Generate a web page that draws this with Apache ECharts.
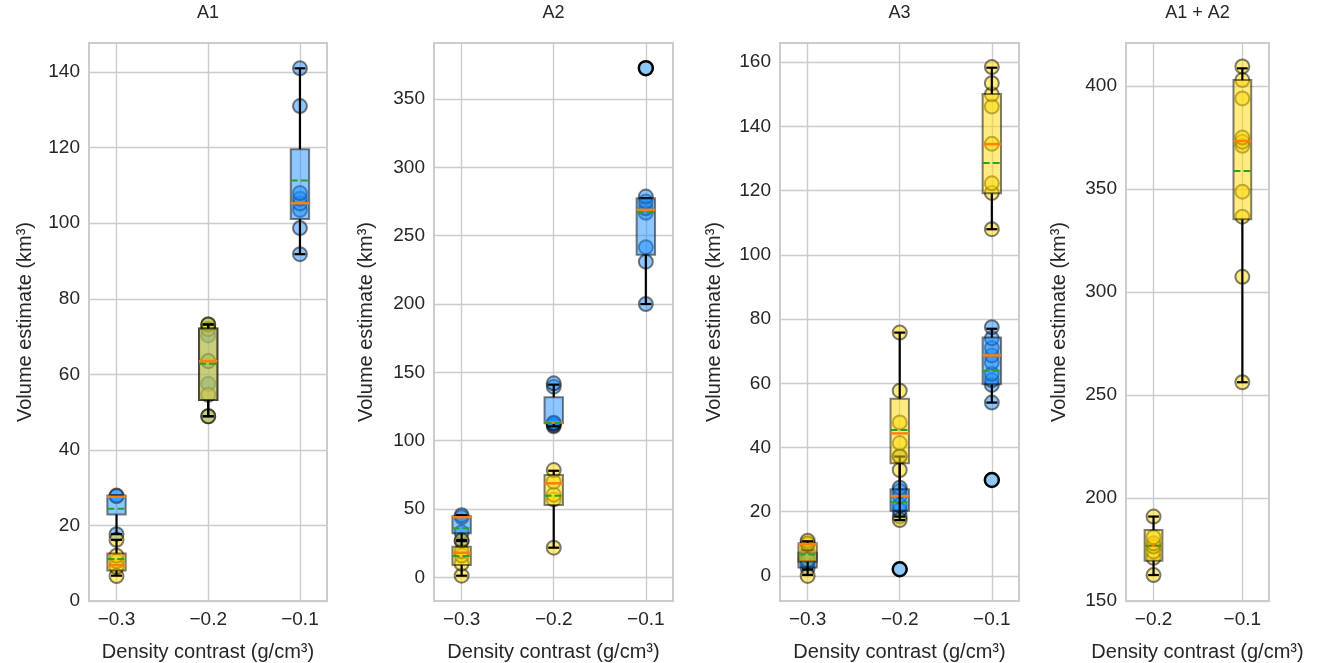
<!DOCTYPE html>
<html><head><meta charset="utf-8">
<script src="https://cdn.jsdelivr.net/npm/echarts@6/dist/echarts.min.js"></script>
<style>html,body{margin:0;padding:0;background:#fff}#c{width:1318px;height:663px}</style>
</head><body><div id="c"></div>
<script>
// ---------------- data ----------------
const panelTitles = ['A1', 'A2', 'A3', 'A1 + A2'];
const xTickValues = [[-0.3, -0.2, -0.1], [-0.3, -0.2, -0.1], [-0.3, -0.2, -0.1], [-0.2, -0.1]];
const yTickValues = [
  [0, 20, 40, 60, 80, 100, 120, 140],
  [0, 50, 100, 150, 200, 250, 300, 350],
  [0, 20, 40, 60, 80, 100, 120, 140, 160],
  [150, 200, 250, 300, 350, 400]
];
const xAxisTitle = 'Density contrast (g/cm³)';
const yAxisTitle = 'Volume estimate (km³)';

// box stats: [low whisker, q1, median, q3, high whisker, mean]
// A1
const a1BluePos = [-0.3, -0.2, -0.1];
const a1BluePts = [[17.7, 27.7, 27.9], [48.9, 57.5, 63.5, 70.3, 73.2], [91.8, 98.7, 103.5, 105.2, 106.5, 108.0, 131.0, 141.0]];
const a1BlueBox = [[17.7, 22.9, 27.6, 27.9, 27.9, 24.4], [48.9, 53.2, 63.5, 72.1, 73.2, 62.8], [91.8, 101.1, 105.3, 119.6, 141.0, 111.3]];
const a1BlueFliers = [];
const a1YellowPos = [-0.3, -0.2];
const a1YellowPts = [[6.6, 9.0, 10.5, 12.0, 16.2], [48.9, 54.6, 63.5, 72.0, 73.2]];
const a1YellowBox = [[6.7, 8.1, 9.5, 12.6, 16.2, 11.1], [48.9, 53.2, 63.5, 72.1, 73.2, 62.8]];
// A2
const a2BluePos = [-0.3, -0.2, -0.1];
const a2BluePts = [[26.5, 33.0, 44.0, 45.5], [110.5, 111.5, 112.5, 113.2, 139.5, 142.0], [200.0, 231.0, 241.6, 266.8, 270.0, 275.0, 278.6]];
const a2BlueBox = [[26.5, 32.2, 44.0, 44.8, 45.5, 36.0], [110.5, 112.7, 113.2, 131.8, 141.0, 112.9], [200.0, 236.0, 268.9, 277.4, 277.4, 267.2]];
const a2BlueFliers = [[-0.1, 372.6]];
const a2YellowPos = [-0.3, -0.2];
const a2YellowPts = [[1.2, 10.0, 16.0, 19.0, 27.3], [21.7, 57.0, 60.5, 70.0, 78.5]];
const a2YellowBox = [[1.2, 9.0, 18.0, 22.4, 27.3, 15.6], [21.7, 53.0, 68.8, 74.9, 78.0, 59.7]];
// A3
const a3BluePos = [-0.3, -0.2, -0.1];
const a3BluePts = [[2.4, 4.0, 5.0, 7.5], [18.5, 20.5, 22.0, 24.9, 26.5, 27.5, 37.2], [54.0, 59.5, 61.0, 63.0, 66.5, 68.7, 71.0, 74.0, 77.5]];
const a3BlueBox = [[2.0, 2.6, 5.0, 7.2, 8.0, 5.2], [18.5, 20.3, 24.9, 27.0, 37.2, 23.0], [54.0, 59.7, 68.7, 74.3, 77.0, 63.9]];
const a3BlueFliers = [[-0.2, 2.1], [-0.1, 29.9]];
const a3YellowPos = [-0.3, -0.2, -0.1];
const a3YellowPts = [[0.0, 5.0, 9.9, 10.2, 11.0], [17.4, 33.0, 37.3, 41.4, 47.8, 57.7, 75.8], [108.0, 119.3, 122.3, 134.6, 146.2, 150.0, 153.5, 158.5]];
const a3YellowBox = [[0.3, 4.5, 9.9, 10.2, 10.8, 6.7], [17.4, 35.1, 44.4, 55.2, 75.8, 45.5], [108.0, 119.2, 134.5, 150.1, 158.3, 128.6]];
// A1 + A2
const a4YellowPos = [-0.2, -0.1];
const a4YellowPts = [[162.6, 171.0, 174.0, 176.5, 178.0, 181.0, 191.0], [256.2, 307.4, 336.6, 348.7, 371.0, 373.0, 375.0, 394.0, 402.9, 409.5]];
const a4YellowBox = [[162.6, 169.6, 176.8, 184.5, 191.0, 176.8], [256.2, 335.3, 373.3, 402.9, 408.6, 358.7]];

// ---------------- layout / style ----------------
const grids = [
  {left: 89, top: 43, width: 238, height: 558},
  {left: 434, top: 43, width: 239, height: 558},
  {left: 780, top: 43, width: 239, height: 558},
  {left: 1126, top: 43, width: 143, height: 558}
];
const xLimits = [[-0.33, -0.0705], [-0.33, -0.0705], [-0.33, -0.0705], [-0.231, -0.070]];
const yLimits = [[0, 147.7], [-17.3, 391], [-7.8, 166], [150, 420.9]];
const yNameGaps = [54, 58, 56, 57];
const FONT = 'Liberation Sans, Arial, Helvetica, sans-serif';
const TXT = '#262626';
const BLUE = 'rgba(30,144,255,0.5)';
const YELLOW = 'rgba(255,215,0,0.5)';
const BOX_W = 0.02, CAP_W = 0.012;

function boxRender(fill) {
  return function (params, api) {
    const x = api.value(0);
    const lo = api.value(1), q1 = api.value(2), md = api.value(3), q3 = api.value(4), hi = api.value(5), mn = api.value(6);
    const tl = api.coord([x - BOX_W / 2, q3]);
    const br = api.coord([x + BOX_W / 2, q1]);
    const pLo = api.coord([x, lo]), pHi = api.coord([x, hi]);
    const cl = api.coord([x - CAP_W / 2, lo])[0], cr = api.coord([x + CAP_W / 2, lo])[0];
    const yMd = api.coord([x, md])[1], yMn = api.coord([x, mn])[1];
    const blk = {stroke: '#000', lineWidth: 2.2};
    return {type: 'group', children: [
      {type: 'line', shape: {x1: pLo[0], y1: br[1], x2: pLo[0], y2: pLo[1]}, style: blk},
      {type: 'line', shape: {x1: pHi[0], y1: tl[1], x2: pHi[0], y2: pHi[1]}, style: blk},
      {type: 'line', shape: {x1: cl, y1: pLo[1], x2: cr, y2: pLo[1]}, style: blk},
      {type: 'line', shape: {x1: cl, y1: pHi[1], x2: cr, y2: pHi[1]}, style: blk},
      {type: 'rect', shape: {x: tl[0], y: tl[1], width: br[0] - tl[0], height: br[1] - tl[1]},
        style: {fill: fill, stroke: 'rgba(0,0,0,0.5)', lineWidth: 2}},
      {type: 'line', shape: {x1: tl[0], y1: yMd, x2: br[0], y2: yMd}, style: {stroke: '#ff7f0e', lineWidth: 2.5}},
      {type: 'line', shape: {x1: tl[0], y1: yMn, x2: br[0], y2: yMn}, style: {stroke: '#2ca02c', lineWidth: 2, lineDash: [7, 3]}}
    ]};
  };
}

function ptsData(pos, pts) {
  const out = [];
  pos.forEach((x, i) => pts[i].forEach(v => out.push([x, v])));
  return out;
}
function boxData(pos, box) {
  return pos.map((x, i) => [x].concat(box[i]));
}

const panels = [
  {blue: [a1BluePos, a1BluePts, a1BlueBox, a1BlueFliers], yellow: [a1YellowPos, a1YellowPts, a1YellowBox]},
  {blue: [a2BluePos, a2BluePts, a2BlueBox, a2BlueFliers], yellow: [a2YellowPos, a2YellowPts, a2YellowBox]},
  {blue: [a3BluePos, a3BluePts, a3BlueBox, a3BlueFliers], yellow: [a3YellowPos, a3YellowPts, a3YellowBox]},
  {blue: null, yellow: [a4YellowPos, a4YellowPts, a4YellowBox]}
];

const series = [];
panels.forEach((p, i) => {
  const groups = [];
  if (p.blue) groups.push({d: p.blue, c: BLUE, k: 0});
  if (p.yellow) groups.push({d: p.yellow, c: YELLOW, k: 1});
  groups.forEach(g => {
    series.push({
      type: 'scatter', xAxisIndex: i, yAxisIndex: i, z: 2 + g.k,
      data: ptsData(g.d[0], g.d[1]), symbol: 'circle', symbolSize: 14,
      itemStyle: {color: g.c, borderColor: 'rgba(0,0,0,0.5)', borderWidth: 2, opacity: 1},
      emphasis: {disabled: true}, silent: true
    });
  });
  groups.forEach(g => {
    series.push({
      type: 'custom', xAxisIndex: i, yAxisIndex: i, z: 4 + g.k,
      data: boxData(g.d[0], g.d[2]), renderItem: boxRender(g.c),
      encode: {x: 0, y: [1, 2, 3, 4, 5, 6]}, silent: true
    });
  });
  if (p.blue && p.blue[3].length) {
    series.push({
      type: 'scatter', xAxisIndex: i, yAxisIndex: i, z: 7,
      data: p.blue[3], symbol: 'circle', symbolSize: 14,
      itemStyle: {color: '#8ec8f8', borderColor: '#000', borderWidth: 2.5, opacity: 1},
      emphasis: {disabled: true}, silent: true
    });
  }
});

const fmtX = v => (v < 0 ? '\u2212' : '') + Math.abs(v).toFixed(1);

const option = {
  animation: false,
  backgroundColor: '#fff',
  textStyle: {fontFamily: FONT},
  graphic: grids.map((g, i) => ({
    type: 'text', x: g.left + g.width / 2, y: 4,
    style: {text: panelTitles[i], font: '18px ' + FONT, fill: TXT, align: 'center', verticalAlign: 'top'}
  })),
  grid: grids.map(g => Object.assign({show: true, borderColor: '#cccccc', borderWidth: 2, backgroundColor: 'transparent', containLabel: false, outerBoundsMode: 'none'}, g)),
  xAxis: grids.map((g, i) => ({
    type: 'value', gridIndex: i, min: xLimits[i][0], max: xLimits[i][1],
    name: xAxisTitle, nameLocation: 'middle', nameGap: 41,
    nameTextStyle: {fontSize: 20, color: TXT, fontFamily: FONT},
    axisLine: {show: false},
    axisTick: {show: false, customValues: xTickValues[i]},
    axisLabel: {customValues: xTickValues[i], formatter: fmtX, fontSize: 19, color: TXT, margin: 9, fontFamily: FONT},
    splitLine: {show: true, lineStyle: {color: '#cccccc', width: 1.4}}
  })),
  yAxis: grids.map((g, i) => ({
    type: 'value', gridIndex: i, min: yLimits[i][0], max: yLimits[i][1],
    name: yAxisTitle, nameLocation: 'middle', nameGap: yNameGaps[i],
    nameTextStyle: {fontSize: 20, color: TXT, fontFamily: FONT},
    axisLine: {show: false},
    axisTick: {show: false, customValues: yTickValues[i]},
    axisLabel: {customValues: yTickValues[i], fontSize: 19, color: TXT, margin: 9, fontFamily: FONT},
    splitLine: {show: true, lineStyle: {color: '#cccccc', width: 1.4}}
  })),
  series: series
};

const chart = echarts.init(document.getElementById('c'), null, {renderer: 'canvas'});
chart.setOption(option);
</script>
</body></html>
